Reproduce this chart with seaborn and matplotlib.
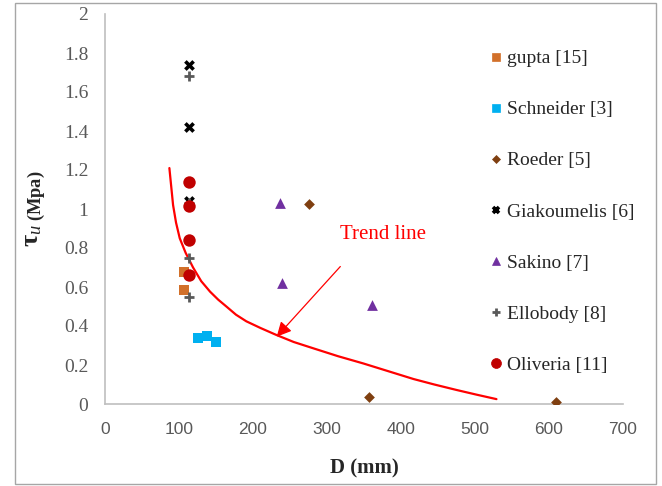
import numpy as np
import pandas as pd
import matplotlib
matplotlib.use("Agg")
import matplotlib.pyplot as plt
from matplotlib.patches import Rectangle
from matplotlib.lines import Line2D
import seaborn as sns

# values, D in mm, tau_u in MPa
gupta_x = [107, 107]
gupta_y = [0.675, 0.585]
schneider_x = [125, 138, 150]
schneider_y = [0.34, 0.349, 0.32]
roeder_x = [275, 357, 610]
roeder_y = [1.026, 0.034, 0.009]
giak_x = [114, 114, 114]
giak_y = [1.738, 1.419, 1.04]
sakino_x = [237, 239, 361]
sakino_y = [1.029, 0.622, 0.508]
ellobody_x = [114, 114, 114, 114]
ellobody_y = [1.684, 1.03, 0.75, 0.55]
oliveria_x = [114, 114, 114, 114]
oliveria_y = [1.14, 1.017, 0.84, 0.66]

# trend curve, points
trend_x = [87, 92, 96, 101, 109, 119, 130, 142, 153, 164, 177, 191, 210, 231,
           255, 282, 315, 349, 383, 417, 445, 475, 502, 529]
trend_y = [1.21, 1.02, 0.93, 0.85, 0.775, 0.70, 0.63, 0.576, 0.535, 0.50,
           0.458, 0.424, 0.39, 0.355, 0.318, 0.285, 0.245, 0.208, 0.168,
           0.128, 0.10, 0.072, 0.048, 0.025]

x_ticks = [0, 100, 200, 300, 400, 500, 600, 700]
y_ticks = [0, 0.2, 0.4, 0.6, 0.8, 1, 1.2, 1.4, 1.6, 1.8, 2]

sns.set_style("white")
plt.rcParams['font.family'] = ['Liberation Serif', 'DejaVu Serif']
plt.rcParams['mathtext.fontset'] = 'custom'
plt.rcParams['mathtext.rm'] = 'Liberation Serif'
plt.rcParams['mathtext.it'] = 'Liberation Serif:italic'
plt.rcParams['mathtext.bf'] = 'Liberation Serif:bold'

W, H = 662, 486
fig = plt.figure(figsize=(W / 100, H / 100), dpi=100)
ax = fig.add_axes([105 / W, (H - 404) / H, (623 - 105) / W, (404 - 14) / H])

# outer chart border
fig.patches.append(Rectangle((15 / W, 2 / H), (656 - 15) / W, (483 - 2) / H,
                             transform=fig.transFigure, fill=False,
                             edgecolor='#a6a6a6', linewidth=1))

series = [
    ("gupta [15]", gupta_x, gupta_y, 's', '#d2702a', 55, 0),
    ("Schneider [3]", schneider_x, schneider_y, 's', '#00b0f0', 45, 0),
    ("Roeder [5]", roeder_x, roeder_y, 'D', '#7f3f10', 30, 0),
    ("Giakoumelis [6]", giak_x, giak_y, 'x', '#000000', 35, 2.6),
    ("Sakino [7]", sakino_x, sakino_y, '^', '#7030a0', 60, 0),
    ("Ellobody [8]", ellobody_x, ellobody_y, '+', '#595959', 55, 2.0),
    ("Oliveria [11]", oliveria_x, oliveria_y, 'o', '#c00000', 80, 0),
]

handles = []
for name, xs, ys, mk, col, sz, lw in series:
    df = pd.DataFrame({'D': xs, 'tau': ys})
    sns.scatterplot(data=df, x='D', y='tau', marker=mk, color=col, s=sz,
                    linewidth=lw, edgecolor=col if lw else None, ax=ax, zorder=3)
    ms = np.sqrt(sz) * (0.85 if mk in ('x', '+') else 0.8)
    handles.append(Line2D([], [], linestyle='none', marker=mk, color=col,
                          markersize=ms, markeredgewidth=lw if lw else 0.5,
                          label=name))

trend = pd.DataFrame({'D': trend_x, 'tau': trend_y})
sns.lineplot(data=trend, x='D', y='tau', color='#ff0000', linewidth=1.6,
             estimator=None, sort=False, ax=ax, zorder=2)

ax.text(375, 0.867, "Trend line", color='#ff0000', fontsize=15,
        ha='center', va='center')
ax.annotate("", xy=(232, 0.345), xytext=(318, 0.705),
            arrowprops=dict(arrowstyle='-|>', color='#ff0000', lw=0.9,
                            mutation_scale=22, shrinkA=0, shrinkB=0))

ax.set_xlim(0, 700)
ax.set_ylim(0, 2)
ax.set_xticks(x_ticks)
ax.set_yticks(y_ticks)
ax.set_xticklabels([str(v) for v in x_ticks], family='Liberation Sans',
                   fontsize=12.5, color='#595959')
ax.set_yticklabels(['0' if v == 0 else ('%g' % v) for v in y_ticks],
                   fontsize=14, color='#595959')
ax.tick_params(axis='both', length=0)
ax.tick_params(axis='x', pad=13)
ax.tick_params(axis='y', pad=12)

for side in ['top', 'right']:
    ax.spines[side].set_visible(False)
for side in ['left', 'bottom']:
    ax.spines[side].set_color('#bfbfbf')
    ax.spines[side].set_linewidth(1.2)

ax.set_xlabel("D (mm)", fontsize=15, fontweight='bold')
ax.xaxis.set_label_coords(0.5, -0.14)
ax.set_ylabel(r"$\mathbf{τ}_{u\ \mathbf{(Mpa)}}$", fontsize=19)
ax.yaxis.set_label_coords(-0.11, 0.5)

leg = ax.legend(handles=handles, loc='upper left',
                bbox_to_anchor=(480 / W, (H - 40) / H),
                bbox_transform=fig.transFigure, frameon=False,
                fontsize=14, handlelength=0.6, handletextpad=0.3,
                labelspacing=1.72, borderpad=0)

plt.savefig("out.png", dpi=100)
